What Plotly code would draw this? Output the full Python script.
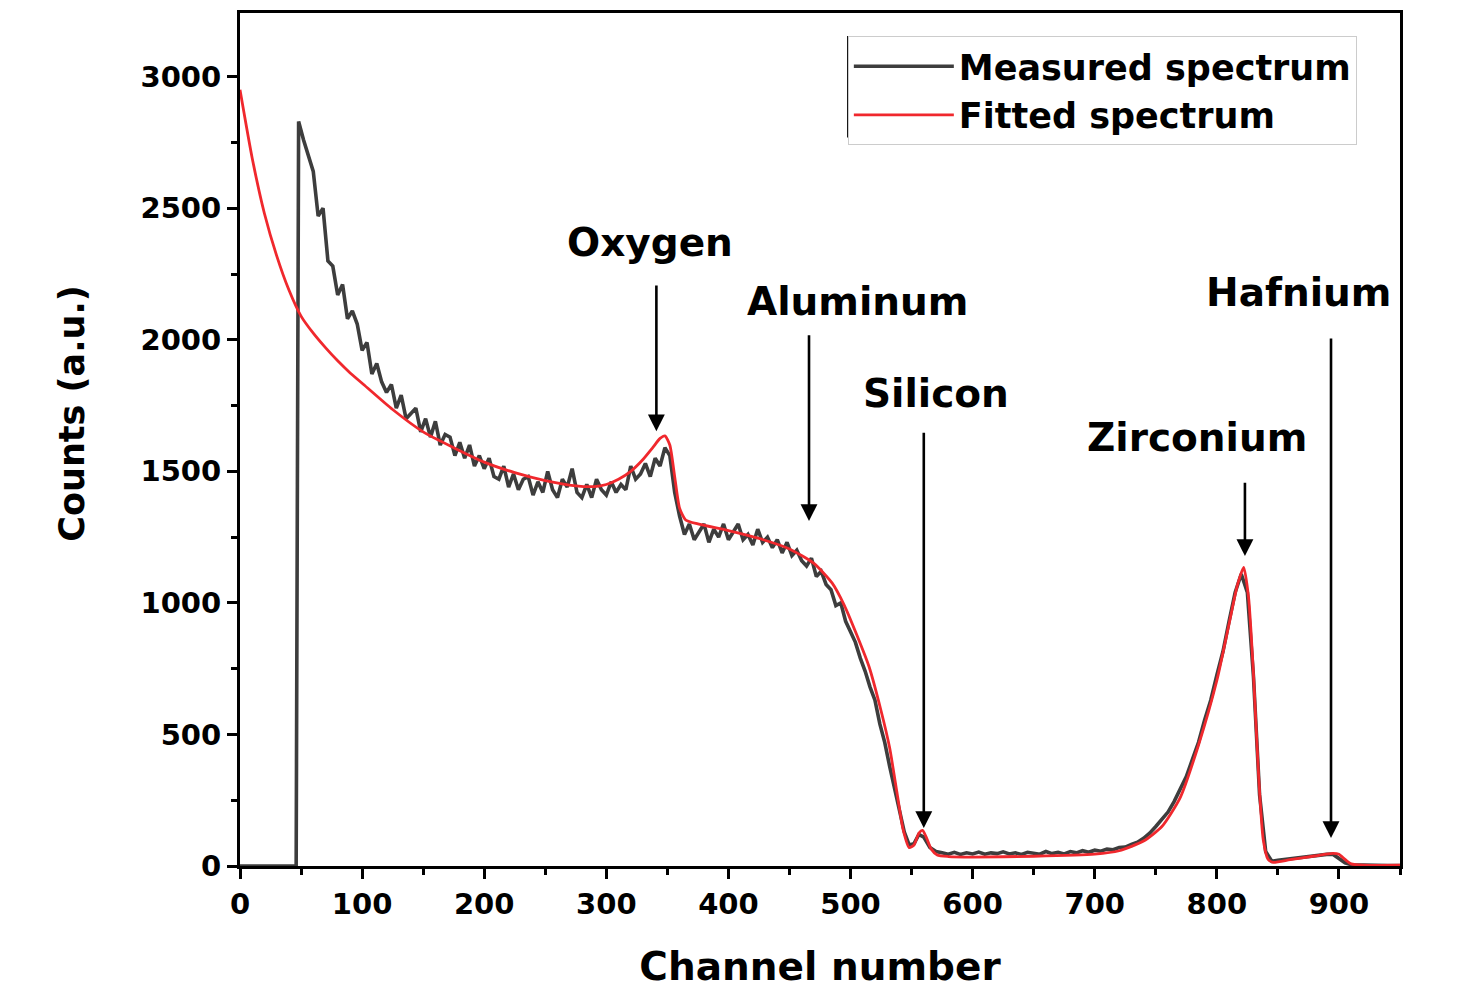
import plotly.graph_objects as go

# ---------------- data ----------------
# Measured spectrum: baseline + rising edge
meas_head_ch = [0, 46, 47]
meas_head_counts = [0, 0, 1450]

# Measured, channels 48..556 every 4 channels
meas_mid_ch = list(range(48, 557, 4))
meas_mid_counts = [
    2830, 2760, 2700, 2640, 2470, 2500, 2300, 2280,
    2170, 2210, 2080, 2110, 2060, 1960, 1990, 1870,
    1910, 1840, 1800, 1830, 1740, 1790, 1700, 1720,
    1740, 1650, 1700, 1630, 1690, 1600, 1640, 1630,
    1560, 1610, 1550, 1600, 1520, 1560, 1510, 1550,
    1480, 1470, 1520, 1440, 1490, 1430, 1470, 1480,
    1410, 1460, 1420, 1500, 1430, 1400, 1470, 1440,
    1510, 1420, 1400, 1450, 1400, 1470, 1430, 1410,
    1460, 1420, 1450, 1430, 1520, 1470, 1490, 1530,
    1480, 1550, 1520, 1590, 1560, 1420, 1330, 1260,
    1300, 1240, 1270, 1300, 1230, 1280, 1250, 1300,
    1240, 1270, 1300, 1240, 1260, 1220, 1280, 1230,
    1250, 1210, 1240, 1190, 1230, 1180, 1200, 1160,
    1140, 1170, 1100, 1120, 1070, 1050, 990, 1000,
    930, 890, 850, 790, 740, 680, 630, 540,
    470, 380, 300, 210, 130, 80, 85, 120,
]

# Measured, channels 560..950 every 5 channels
meas_tail_ch = list(range(560, 951, 5))
meas_tail_counts = [
    110, 70, 55, 50, 45, 52, 44, 50,
    46, 53, 45, 50, 47, 54, 46, 50,
    44, 52, 48, 45, 55, 47, 52, 46,
    55, 50, 58, 52, 60, 56, 64, 62,
    70, 72, 82, 90, 105, 125, 150, 178,
    205, 245, 292, 340, 405, 470, 555, 630,
    725, 815, 930, 1040, 1110, 1040, 720, 270,
    55, 18, 22, 25, 28, 30, 33, 35,
    38, 40, 44, 45, 30, 12, 5, 4,
    4, 3, 3, 3, 2, 2, 2,
]

# Fitted spectrum
fit_ch = [0, 10, 20, 30, 40, 50, 60, 70, 80, 90, 100, 125, 150, 175, 200, 225,
          250, 275, 290, 300, 310, 320, 330, 338, 344, 348, 352, 356, 360, 365,
          375, 400, 425, 450, 470, 485, 495, 505, 515, 525, 532, 538, 543, 548,
          552, 556, 559, 562, 566, 571, 580, 600, 650, 700, 720, 740, 755, 770,
          785, 800, 810, 817, 822, 826, 830, 834, 838, 842, 846, 860, 880, 895,
          900, 905, 910, 920, 950]
fit_counts = [2950, 2690, 2480, 2320, 2190, 2090, 2025, 1970, 1920, 1875, 1835,
              1735, 1650, 1590, 1535, 1495, 1465, 1445, 1442, 1450, 1470, 1500,
              1545, 1590, 1625, 1635, 1600, 1480, 1360, 1315, 1300, 1275, 1245,
              1205, 1150, 1075, 990, 880, 760, 590, 450, 280, 140, 70, 80, 125,
              135, 110, 65, 42, 36, 34, 37, 45, 58, 95, 150, 260, 460, 705, 920,
              1070, 1135, 1020, 730, 360, 100, 25, 14, 24, 38, 48, 45, 25, 8, 3, 3]

# Element annotations: label, arrow channel, arrow tip, arrow tail, label x, label y
elem_names = ["Oxygen", "Aluminum", "Silicon", "Zirconium", "Hafnium"]
elem_arrow_ch = [341, 466, 560, 823, 893.5]
elem_arrow_tip = [1652, 1311, 144, 1178, 106]
elem_arrow_tail = [2212, 2023, 1652, 1462, 2011]
elem_label_x = [336, 506, 570, 784, 866.5]
elem_label_y = [2371, 2144, 1795, 1629, 2178]

x_ticks = [0, 100, 200, 300, 400, 500, 600, 700, 800, 900]
y_ticks = [0, 500, 1000, 1500, 2000, 2500, 3000]

# ---------------- figure ----------------
meas_ch = meas_head_ch + meas_mid_ch + meas_tail_ch
meas_counts = meas_head_counts + meas_mid_counts + meas_tail_counts
assert len(meas_ch) == len(meas_counts)
assert len(fit_ch) == len(fit_counts)

FONT = "DejaVu Sans"

fig = go.Figure()
fig.add_trace(go.Scatter(
    x=meas_ch, y=meas_counts, mode="lines", name="Measured spectrum",
    line=dict(color="#3d3d3d", width=3.6),
))
fig.add_trace(go.Scatter(
    x=fit_ch, y=fit_counts, mode="lines", name="Fitted spectrum",
    line=dict(color="#f0282d", width=2.8, shape="spline", smoothing=0.6),
))

for name, xc, tip, tail, lx, ly in zip(elem_names, elem_arrow_ch, elem_arrow_tip,
                                       elem_arrow_tail, elem_label_x, elem_label_y):
    fig.add_annotation(
        x=xc, y=tip, ax=xc, ay=tail, xref="x", yref="y", axref="x", ayref="y",
        showarrow=True, arrowhead=2, arrowsize=1.3, arrowwidth=2.6,
        arrowcolor="black", text="",
    )
    fig.add_annotation(
        x=lx, y=ly, xref="x", yref="y", text=name, showarrow=False,
        font=dict(family=FONT, size=39, color="black", weight="bold"),
        xanchor="center", yanchor="middle",
    )

# y-axis title placed as rotated text
fig.add_annotation(
    x=-0.145, y=0.53, xref="paper", yref="paper", text="Counts (a.u.)",
    showarrow=False, textangle=-90, xanchor="center", yanchor="middle",
    font=dict(family=FONT, size=35, color="black", weight="bold"),
)

axis_common = dict(
    showline=True, linecolor="black", linewidth=3, mirror=True,
    ticks="outside", tickwidth=3, tickcolor="black", ticklen=10,
    showgrid=False, zeroline=False,
    tickfont=dict(family=FONT, size=29, color="black", weight="bold"),
)

fig.update_xaxes(
    **axis_common, range=[0, 950], tickvals=x_ticks,
    minor=dict(ticks="outside", dtick=50, tick0=0, ticklen=6, tickwidth=2.5,
               tickcolor="black"),
    title=dict(text="Channel number", standoff=33,
               font=dict(family=FONT, size=39, color="black", weight="bold")),
)
fig.update_yaxes(
    **axis_common, range=[0, 3242], tickvals=y_ticks,
    minor=dict(ticks="outside", dtick=250, tick0=0, ticklen=6, tickwidth=2.5,
               tickcolor="black"),
)

fig.update_layout(
    width=1482, height=992,
    margin=dict(l=240, r=82, t=10, b=126),
    paper_bgcolor="white", plot_bgcolor="white",
    showlegend=True,
    legend=dict(
        x=0.524, y=0.973, xanchor="left", yanchor="top",
        bgcolor="white", bordercolor="#cccccc", borderwidth=1,
        font=dict(family=FONT, size=35, color="black", weight="bold"),
        itemwidth=100, tracegroupgap=0,
    ),
)

# black left edge of the legend box
fig.add_shape(type="line", xref="paper", yref="paper",
              x0=0.524, x1=0.524, y0=0.854, y1=0.973,
              line=dict(color="black", width=1.5))

fig.write_html("out.html")
